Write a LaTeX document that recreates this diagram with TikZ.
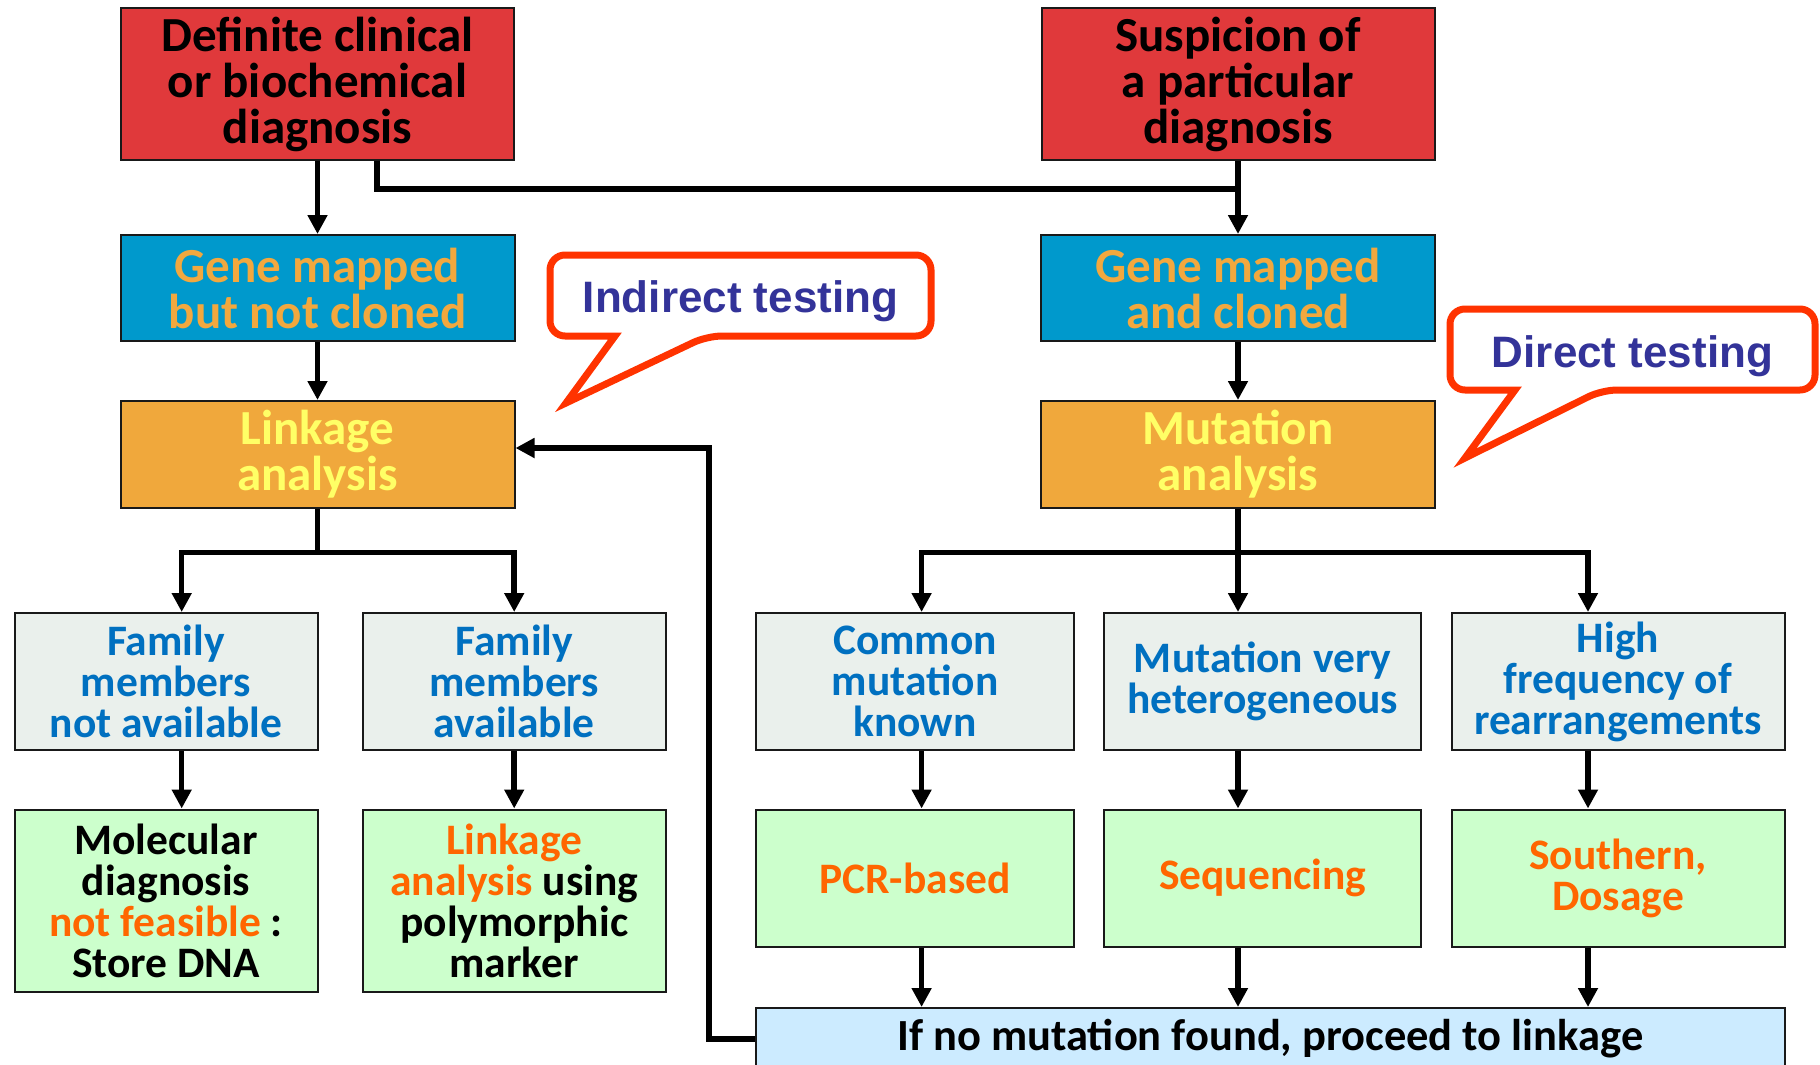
\documentclass[tikz,border=0pt]{standalone}
\usepackage{fontspec}
\setmainfont{Carlito}
\newfontfamily\bubblefont{Liberation Sans}
\usetikzlibrary{arrows.meta,calc}
\definecolor{boxred}{HTML}{E0393B}
\definecolor{boxblue}{HTML}{0099CC}
\definecolor{boxorange}{HTML}{F0A83C}
\definecolor{txtgene}{HTML}{F2A83E}
\definecolor{txtyellow}{HTML}{FFFF66}
\definecolor{boxgray}{HTML}{EAF0EC}
\definecolor{txtblue}{HTML}{0070C0}
\definecolor{boxgreen}{HTML}{CCFFCC}
\definecolor{txtorange}{HTML}{FF6600}
\definecolor{boxsky}{HTML}{CCEBFF}
\definecolor{bubbleline}{HTML}{FF3300}
\definecolor{bubbletxt}{HTML}{333399}
\begin{document}
\begin{tikzpicture}[x=1pt,y=-1pt,
  box/.style={draw=black!90, line width=2pt, inner sep=0pt, align=center},
  bigtxt/.style={font=\bfseries\fontsize{49}{46}\selectfont},
  smalltxt/.style={font=\bfseries\fontsize{43.5}{41}\selectfont},
  redbox/.style={box, bigtxt, fill=boxred, text=black, minimum width=393pt, minimum height=152pt},
  bluebox/.style={box, bigtxt, fill=boxblue, text=txtgene, minimum width=394pt, minimum height=106pt},
  orangebox/.style={box, bigtxt, fill=boxorange, text=txtyellow, minimum width=394pt, minimum height=107pt},
  graybox/.style={box, smalltxt, fill=boxgray, text=txtblue, minimum height=137pt},
  greenbox/.style={box, smalltxt, fill=boxgreen, text=black},
  skybox/.style={box, font=\bfseries\fontsize{44.5}{41}\selectfont, fill=boxsky, text=black},
  conn/.style={line width=5.5pt, draw=black},
  arr/.style={conn, -{Triangle[length=19pt,width=19pt]}},
  bubble/.style={draw=bubbleline, line width=7pt, fill=white, line join=miter},
  bubbletext/.style={font=\bubblefont\bfseries\fontsize{44}{46}\selectfont, text=bubbletxt},
]
\useasboundingbox (0,0) rectangle (1820,1065);

% top row
\node[redbox] (top1) at (317.5,84) {Definite clinical\\or biochemical\\diagnosis};
\node[redbox] (top2) at (1238,84) {Suspicion of\\a particular\\diagnosis};

% gene row
\node[bluebox] (gene1) at (317.5,288) {Gene mapped\\but not cloned};
\node[bluebox] (gene2) at (1238,288) {Gene mapped\\and cloned};
% (text nudged slightly upward via separate anchor not needed)

% analysis row
\node[orangebox] (link) at (317.5,454.5) {Linkage\\analysis};
\node[orangebox] (mut) at (1238,454.5) {Mutation\\analysis};

% condition row
\node[graybox, minimum width=303pt] (famNA) at (166,681.5) {Family\\members\\not available};
\node[graybox, minimum width=303pt] (famA) at (514.2,681.5) {Family\\members\\available};
\node[graybox, minimum width=318pt] (common) at (915,681.5) {Common\\mutation\\known};
\node[graybox, minimum width=317pt] (hetero) at (1262.7,681.5) {Mutation very\\heterogeneous};
\node[graybox, minimum width=333pt] (high) at (1618,681.5) {High\\frequency of\\rearrangements};

% result row
\node[greenbox, minimum width=303pt, minimum height=182.5pt] (mol) at (166,900.75)
  {Molecular\\diagnosis\\{\color{txtorange}not feasible} :\\Store DNA};
\node[greenbox, minimum width=303pt, minimum height=182.5pt] (lpoly) at (514.2,900.75)
  {{\color{txtorange}Linkage}\\{\color{txtorange}analysis} using\\polymorphic\\marker};
\node[greenbox, minimum width=318pt, minimum height=137.5pt, text=txtorange] (pcr) at (915,878.25) {PCR-based};
\node[greenbox, minimum width=317pt, minimum height=137.5pt, text=txtorange] (seq) at (1262.7,878.25) {Sequencing};
\node[greenbox, minimum width=333pt, minimum height=137.5pt, text=txtorange] (south) at (1618,878.25) {Southern,\\Dosage};

% bottom box
\node[skybox, minimum width=1028.6pt, minimum height=62pt, anchor=north] (nomut) at (1270.3,1007)
  {If no mutation found, proceed to linkage};

% helper coordinates
\coordinate (tl) at (377,189);
\coordinate (bl) at (181.7,552.7);
\coordinate (m1) at (921.6,552.7);
\coordinate (m3) at (1588,552.7);
\coordinate (fb) at (709,448);

% connectors top
\draw[arr] (top1.south) -- (gene1.north);
\draw[conn] (tl |- top1.south) -- (tl) -- (tl -| top2.south);
\draw[arr] (top2.south) -- (gene2.north);
\draw[arr] (gene1.south) -- (link.north);
\draw[arr] (gene2.south) -- (mut.north);

% linkage branches
\draw[arr] (link.south) |- (bl) -- (bl |- famNA.north);
\draw[arr] (link.south |- bl) -| (famA.north);
\draw[arr] (bl |- famNA.south) -- (bl |- mol.north);
\draw[arr] (famA.south) -- (lpoly.north);

% mutation branches
\draw[arr] (mut.south |- m1) -- (m1) -- (m1 |- common.north);
\draw[arr] (mut.south |- m3) -- (m3) -- (m3 |- high.north);
\draw[arr] (mut.south) -- (mut.south |- hetero.north);
\draw[arr] (m1 |- common.south) -- (m1 |- pcr.north);
\draw[arr] (mut.south |- hetero.south) -- (mut.south |- seq.north);
\draw[arr] (m3 |- high.south) -- (m3 |- south.north);
\draw[arr] (m1 |- pcr.south) -- (m1 |- nomut.north);
\draw[arr] (mut.south |- seq.south) -- (mut.south |- nomut.north);
\draw[arr] (m3 |- south.south) -- (m3 |- nomut.north);

% feedback
\draw[arr] (nomut.west) -| (fb) -- (fb -| link.east);

% bubbles
\draw[bubble] (707,336) -- (566,403) -- (615,336) [rounded corners=15pt] -- (550,336) -- (550,255) -- (931,255) -- (931,336) -- cycle;
\node[bubbletext] (ind) at (740.5,301) {Indirect testing};
\draw[bubble] (1602,390) -- (1465,458) -- (1515,390) [rounded corners=15pt] -- (1450,390) -- (1450,309) -- (1815,309) -- (1815,390) -- cycle;
\node[bubbletext] (dir) at (1632.5,356) {Direct testing};
\end{tikzpicture}
\end{document}
